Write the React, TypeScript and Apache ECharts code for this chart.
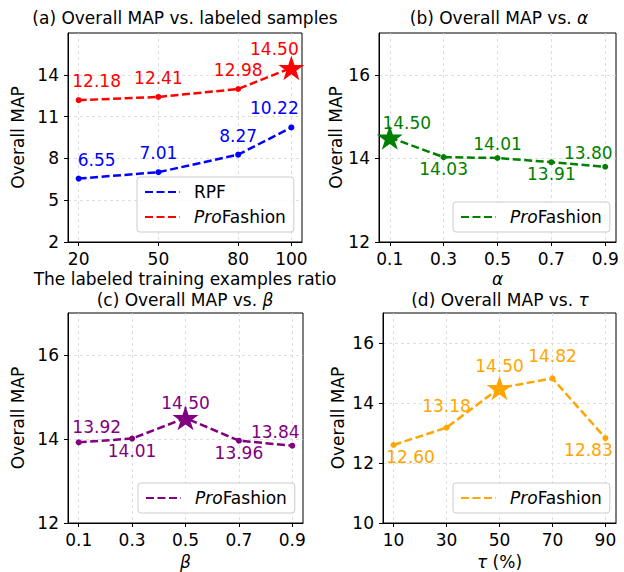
import React, { useEffect, useRef } from "react";
import * as echarts from "echarts";

// ---------- data ----------
const ratioX = [20, 50, 80, 100];
const rpfMAP = [6.55, 7.01, 8.27, 10.22];
const proMAP_a = [12.18, 12.41, 12.98, 14.5];

const alphaX = [0.1, 0.3, 0.5, 0.7, 0.9];
const proMAP_b = [14.5, 14.03, 14.01, 13.91, 13.8];

const betaX = [0.1, 0.3, 0.5, 0.7, 0.9];
const proMAP_c = [13.92, 14.01, 14.5, 13.96, 13.84];

const tauX = [10, 30, 50, 70, 90];
const proMAP_d = [12.6, 13.18, 14.5, 14.82, 12.83];

const xTicks_a = [20, 50, 80, 100];
const xTicks_bc = [0.1, 0.3, 0.5, 0.7, 0.9];
const xTicks_d = [10, 30, 50, 70, 90];
const yTicks_a = [2, 5, 8, 11, 14];
const yTicks_bc = [12, 14, 16];
const yTicks_d = [10, 12, 14, 16];

// index of the highlighted (star) point in each ProFashion series
const star_a = 3;
const star_b = 0;
const star_c = 2;
const star_d = 2;

// ---------- layout / style ----------
const FONT = "DejaVu Sans";
const FS = 17;
const STAR =
  "path://M50,0 L61.8,36.2 L100,36.2 L69.1,58.8 L80.9,95.1 L50,72.6 L19.1,95.1 L30.9,58.8 L0,36.2 L38.2,36.2 Z";

const offs_a_red = [[18, -19], [0, -19], [0, -19], [-17, -19]];
const offs_a_blue = [[18, -19], [0, -19], [0, -19], [-17, -19]];
const offs_b = [[17, -15], [0, 12], [0, -14], [0, 12], [-17, -14]];
const offs_c = [[18, -15], [0, 12], [0, -15], [0, 12], [-17, -14]];
const offs_d = [[17, 12], [0, -22], [0, -22], [0, -22], [-17, 12]];

const grids = [
  { left: 68, top: 33, width: 234, height: 209 },
  { left: 379, top: 33, width: 237, height: 209 },
  { left: 68, top: 313, width: 235, height: 210 },
  { left: 383, top: 313, width: 233, height: 210 },
];

const rich = {
  i: { fontStyle: "italic", fontSize: FS, fontFamily: FONT, color: "#000", lineHeight: 16 },
};

function xAxis(gi: number, min: number, max: number, ticks: number[], name: string, nameGap: number) {
  return {
    type: "value",
    gridIndex: gi,
    min,
    max,
    name,
    nameLocation: "middle",
    nameGap,
    nameTextStyle: { fontSize: FS, color: "#000", fontFamily: FONT, lineHeight: 16, rich },
    axisLine: { show: true, onZero: false, lineStyle: { color: "#000", width: 1 } },
    axisTick: { show: true, length: 4, customValues: ticks, lineStyle: { color: "#000", width: 1 } },
    axisLabel: {
      customValues: ticks,
      fontSize: FS,
      color: "#000",
      fontFamily: FONT,
      margin: 8,
      formatter: (v: number) => String(v),
    },
    splitLine: { show: true, lineStyle: { color: "#d6d6d6", type: [3, 3], width: 0.8 } },
  };
}

function yAxis(gi: number, min: number, max: number, ticks: number[], nameGap: number) {
  return {
    type: "value",
    gridIndex: gi,
    min,
    max,
    name: "Overall MAP",
    nameLocation: "middle",
    nameGap,
    nameTextStyle: { fontSize: FS, color: "#000", fontFamily: FONT },
    axisLine: { show: true, onZero: false, lineStyle: { color: "#000", width: 1 } },
    axisTick: { show: true, length: 4, customValues: ticks, lineStyle: { color: "#000", width: 1 } },
    axisLabel: {
      customValues: ticks,
      fontSize: FS,
      color: "#000",
      fontFamily: FONT,
      margin: 9,
      formatter: (v: number) => String(v),
    },
    splitLine: { show: true, lineStyle: { color: "#d6d6d6", type: [3, 3], width: 0.8 } },
  };
}

function lineSeries(
  name: string,
  xs: number[],
  ys: number[],
  color: string,
  gi: number,
  starIdx: number,
  offsets: number[][]
) {
  return {
    type: "line",
    name,
    xAxisIndex: gi,
    yAxisIndex: gi,
    symbolKeepAspect: true,
    data: xs.map((x, i) => ({
      value: [x, ys[i]],
      symbol: i === starIdx ? STAR : "circle",
      symbolSize: i === starIdx ? 26 : 6,
      label: { offset: offsets[i] },
    })),
    lineStyle: { color, width: 2.5, type: [8, 3.5] },
    itemStyle: { color },
    label: {
      show: true,
      position: "inside",
      color,
      fontSize: FS,
      fontFamily: FONT,
      formatter: (p: any) => p.value[1].toFixed(2),
    },
  };
}

function legend(names: string[], left: number, top: number) {
  return {
    data: names,
    orient: "vertical",
    left,
    top,
    itemWidth: 35,
    itemHeight: 14,
    itemGap: 7,
    padding: [6, 8, 6, 7],
    backgroundColor: "rgba(255,255,255,0.8)",
    borderColor: "#cccccc",
    borderWidth: 1,
    borderRadius: 3,
    selectedMode: false,
    itemStyle: { opacity: 0 },
    textStyle: {
      fontSize: FS,
      color: "#000",
      fontFamily: FONT,
      lineHeight: 18,
      padding: [0, 0, 0, 9],
      rich: { i: { fontStyle: "italic", fontSize: FS, fontFamily: FONT, color: "#000", lineHeight: 18 } },
    },
    formatter: (n: string) => (n === "RPF" ? "RPF" : "{i|Pro}Fashion"),
  };
}

function title(text: string, cx: number, top: number) {
  return {
    text,
    left: cx,
    top,
    textAlign: "center",
    padding: 0,
    textStyle: {
      fontSize: FS,
      fontWeight: "normal",
      color: "#000",
      fontFamily: FONT,
      lineHeight: 16,
      rich,
    },
  };
}

export default function App() {
  const ref = useRef<HTMLDivElement>(null);
  useEffect(() => {
    if (!ref.current) return;
    const chart = echarts.init(ref.current, undefined, { renderer: "svg" });
    const option: any = {
      animation: false,
      backgroundColor: "#fff",
      textStyle: { fontFamily: FONT },
      title: [
        title("(a) Overall MAP vs. labeled samples", 185, 10),
        title("(b) Overall MAP vs. {i|α}", 499, 10),
        title("(c) Overall MAP vs. {i|β}", 185, 292),
        title("(d) Overall MAP vs. {i|τ}", 500, 292),
      ],
      grid: grids.map((g) => ({
        ...g,
        show: true,
        borderColor: "#000",
        borderWidth: 1,
        backgroundColor: "transparent",
        containLabel: false,
        outerBoundsMode: "none",
      })),
      xAxis: [
        xAxis(0, 16, 104, xTicks_a, "The labeled training examples ratio", 29),
        xAxis(1, 0.06, 0.94, xTicks_bc, "{i|α}", 29),
        xAxis(2, 0.06, 0.94, xTicks_bc, "{i|β}", 31),
        xAxis(3, 6, 94, xTicks_d, "{i|τ} (%)", 31),
      ],
      yAxis: [
        yAxis(0, 2, 17, yTicks_a, 42),
        yAxis(1, 12, 17, yTicks_bc, 33),
        yAxis(2, 12, 17, yTicks_bc, 42),
        yAxis(3, 10, 17, yTicks_d, 37),
      ],
      legend: [
        legend(["RPF", "ProFashion (a)"], 137, 177),
        legend(["ProFashion (b)"], 453, 202),
        legend(["ProFashion (c)"], 138, 483),
        legend(["ProFashion (d)"], 453, 483),
      ],
      series: [
        lineSeries("RPF", ratioX, rpfMAP, "#0000ff", 0, -1, offs_a_blue),
        lineSeries("ProFashion (a)", ratioX, proMAP_a, "#ff0000", 0, star_a, offs_a_red),
        lineSeries("ProFashion (b)", alphaX, proMAP_b, "#008000", 1, star_b, offs_b),
        lineSeries("ProFashion (c)", betaX, proMAP_c, "#800080", 2, star_c, offs_c),
        lineSeries("ProFashion (d)", tauX, proMAP_d, "#ffa500", 3, star_d, offs_d),
      ],
    };
    chart.setOption(option);
    return () => chart.dispose();
  }, []);
  return (
    <div
      ref={ref}
      style={{ position: "fixed", left: 0, top: 0, width: 624, height: 572, background: "#fff" }}
    />
  );
}
